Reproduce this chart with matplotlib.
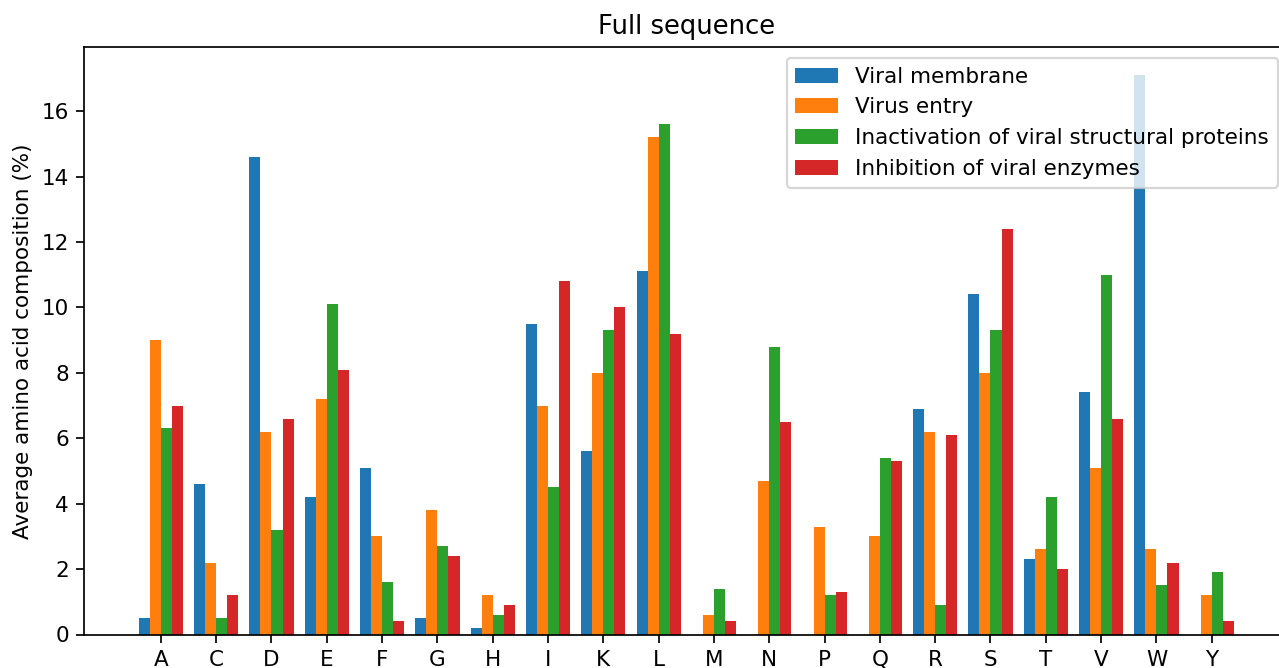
import numpy as np
import matplotlib
matplotlib.use('Agg')
import matplotlib.pyplot as plt

amino = ['A', 'C', 'D', 'E', 'F', 'G', 'H', 'I', 'K', 'L',
         'M', 'N', 'P', 'Q', 'R', 'S', 'T', 'V', 'W', 'Y']

membrane = [0.5, 4.6, 14.6, 4.2, 5.1, 0.5, 0.2, 9.5, 5.6, 11.1,
            0.0, 0.0, 0.0, 0.0, 6.9, 10.4, 2.3, 7.4, 17.1, 0.0]
entry = [9.0, 2.2, 6.2, 7.2, 3.0, 3.8, 1.2, 7.0, 8.0, 15.2,
         0.6, 4.7, 3.3, 3.0, 6.2, 8.0, 2.6, 5.1, 2.6, 1.2]
structural = [6.3, 0.5, 3.2, 10.1, 1.6, 2.7, 0.6, 4.5, 9.3, 15.6,
              1.4, 8.8, 1.2, 5.4, 0.9, 9.3, 4.2, 11.0, 1.5, 1.9]
enzymes = [7.0, 1.2, 6.6, 8.1, 0.4, 2.4, 0.9, 10.8, 10.0, 9.2,
           0.4, 6.5, 1.3, 5.3, 6.1, 12.4, 2.0, 6.6, 2.2, 0.4]

series = [membrane, entry, structural, enzymes]
labels = ['Viral membrane', 'Virus entry',
          'Inactivation of viral structural proteins',
          'Inhibition of viral enzymes']

dpi = 155
fig = plt.figure(figsize=(1279./dpi, 668./dpi), dpi=dpi)
ax = fig.add_axes([84/1279., 1-634.5/668., (1288.6-84)/1279., (634.5-47.3)/668.])

x = np.arange(len(amino))
w = 0.2
for i, (vals, lab) in enumerate(zip(series, labels)):
    ax.bar(x + (i-1.5)*w, vals, w, label=lab)

ax.set_xticks(x)
ax.set_xticklabels(amino)
ax.set_ylabel('Average amino acid composition (%)')
ax.set_title('Full sequence')
ax.legend(loc='upper right')

fig.savefig('out.png', dpi=dpi)
